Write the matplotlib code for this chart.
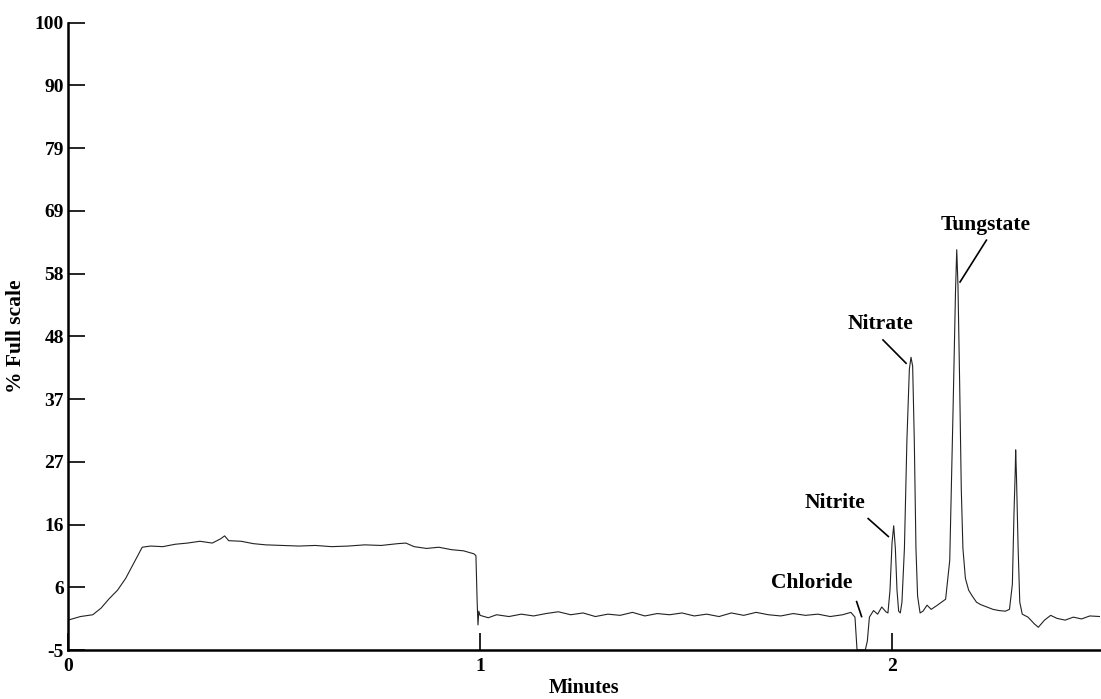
import numpy as np
import matplotlib
matplotlib.use("Agg")
import matplotlib.pyplot as plt

# chromatogram trace (minutes, % full scale)
minutes = [
    0.00, 0.03, 0.06, 0.08, 0.10, 0.12, 0.14, 0.16, 0.18, 0.20,
    0.23, 0.26, 0.29, 0.32, 0.35, 0.37, 0.38, 0.39, 0.42, 0.45,
    0.48, 0.52, 0.56, 0.60, 0.64, 0.68, 0.72, 0.76, 0.80, 0.82,
    0.84, 0.87, 0.90, 0.93, 0.96, 0.985, 0.99, 0.993, 0.995, 0.997,
    1.00, 1.02, 1.04, 1.07, 1.10, 1.13, 1.16, 1.19, 1.22, 1.25,
    1.28, 1.31, 1.34, 1.37, 1.40, 1.43, 1.46, 1.49, 1.52, 1.55,
    1.58, 1.61, 1.64, 1.67, 1.70, 1.73, 1.76, 1.79, 1.82, 1.85,
    1.88, 1.90, 1.91, 1.915, 1.935, 1.94, 1.945, 1.955, 1.965, 1.975,
    1.985, 1.99, 1.995, 2.000, 2.004, 2.008, 2.012, 2.016, 2.020, 2.024,
    2.030, 2.036, 2.042, 2.046, 2.050, 2.054, 2.058, 2.062, 2.068, 2.075,
    2.085, 2.095, 2.110, 2.120, 2.130, 2.140, 2.148, 2.154, 2.157, 2.160,
    2.164, 2.168, 2.172, 2.178, 2.186, 2.195, 2.205, 2.215, 2.230, 2.245,
    2.260, 2.275, 2.285, 2.292, 2.296, 2.299, 2.300, 2.302, 2.306, 2.310,
    2.316, 2.330, 2.345, 2.355, 2.370, 2.385, 2.40, 2.42, 2.44, 2.46,
    2.48, 2.505,
]
signal = [
    0.0, 0.6, 0.9, 2.0, 3.6, 5.0, 7.0, 9.6, 12.2, 12.4,
    12.3, 12.7, 12.9, 13.2, 12.9, 13.6, 14.1, 13.3, 13.2, 12.8,
    12.6, 12.5, 12.4, 12.5, 12.3, 12.4, 12.6, 12.5, 12.8, 12.9,
    12.3, 12.0, 12.2, 11.8, 11.6, 11.1, 10.8, 3.0, -0.8, 1.5,
    0.8, 0.4, 0.9, 0.6, 1.0, 0.7, 1.1, 1.4, 0.9, 1.2,
    0.6, 1.0, 0.8, 1.3, 0.7, 1.1, 0.9, 1.2, 0.7, 1.0,
    0.6, 1.2, 0.8, 1.3, 0.9, 0.7, 1.1, 0.8, 1.0, 0.6,
    0.9, 1.3, 0.5, -5.0, -5.0, -3.5, 0.5, 1.6, 1.0, 2.2,
    1.4, 1.2, 5.0, 13.0, 15.8, 12.0, 5.0, 1.5, 1.2, 3.0,
    12.0, 30.0, 42.0, 44.0, 42.5, 30.0, 12.0, 4.0, 1.2, 1.5,
    2.5, 1.8, 2.5, 3.0, 3.5, 10.0, 35.0, 55.0, 62.0, 56.0,
    40.0, 22.0, 12.0, 7.0, 5.0, 4.0, 3.0, 2.6, 2.2, 1.8,
    1.6, 1.5, 1.8, 6.0, 18.0, 25.0, 28.5, 24.0, 12.0, 3.0,
    1.0, 0.5, -0.6, -1.2, 0.0, 0.8, 0.3, 0.0, 0.5, 0.2,
    0.7, 0.6,
]

y_ticks = np.linspace(-5, 100, 11)
y_tick_labels = ["-5", "6", "16", "27", "37", "48", "58", "69", "79", "90", "100"]
x_ticks = [0, 1, 2]
x_tick_labels = ["0", "1", "2"]

# peak labels: text, text position, pointer start, pointer end
peak_names = ["Chloride", "Nitrite", "Nitrate", "Tungstate"]
label_xy = [(1.806, 6.2), (1.862, 19.6), (1.971, 49.6), (2.226, 66.1)]
pointer_from = [(1.914, 3.1), (1.942, 17.0), (1.978, 46.9), (2.229, 63.6)]
pointer_to = [(1.926, 0.6), (1.991, 14.0), (2.034, 43.0), (2.165, 56.6)]

plt.rcParams['font.family'] = ['Liberation Serif', 'DejaVu Serif']

fig = plt.figure(figsize=(11.01, 6.99), dpi=100)
ax = fig.add_axes([0.0618, 0.0701, 0.9374, 0.8974])

ax.plot(minutes, signal, color='#222222', lw=0.8)

ax.set_xlim(0, 2.505)
ax.set_ylim(-5, 100)
ax.set_yticks(y_ticks)
ax.set_yticklabels(y_tick_labels)
ax.set_xticks(x_ticks)
ax.set_xticklabels(x_tick_labels)
ax.tick_params(direction='in', length=12, width=1.2, labelsize=14, pad=3)
ax.tick_params(axis='x', pad=6)
for lab in ax.get_xticklabels() + ax.get_yticklabels():
    lab.set_fontweight('bold')

for side in ['top', 'right']:
    ax.spines[side].set_visible(False)
for side in ['left', 'bottom']:
    ax.spines[side].set_linewidth(1.8)

ax.set_xlabel('Minutes', fontsize=14.5, fontweight='bold', labelpad=2)
ax.set_ylabel('% Full scale', fontsize=15.5, fontweight='bold', labelpad=6)

for name, (tx, ty), p0, p1 in zip(peak_names, label_xy, pointer_from, pointer_to):
    ax.text(tx, ty, name, fontsize=15.5, ha='center', va='center', fontweight='bold')
    ax.plot([p0[0], p1[0]], [p0[1], p1[1]], color='black', lw=1.2)

fig.savefig('out.png', dpi=100)
